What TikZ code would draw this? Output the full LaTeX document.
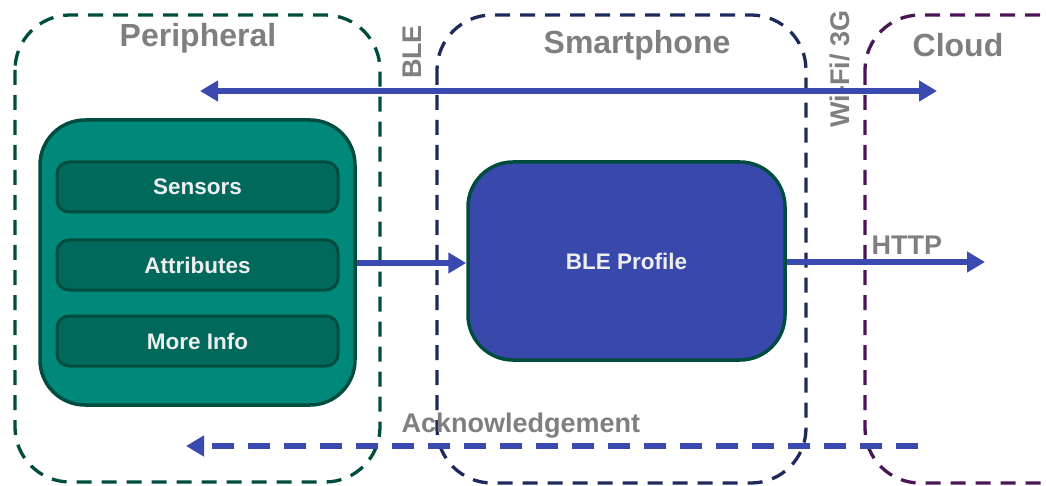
\documentclass[tikz,border=0pt]{standalone}
\usepackage{fontspec}
\setmainfont{Liberation Sans}
\usetikzlibrary{arrows.meta}
\definecolor{pgreen}{HTML}{004D40}
\definecolor{pnavy}{HTML}{1F2A5C}
\definecolor{ppurple}{HTML}{4A1656}
\definecolor{teal1}{HTML}{00897B}
\definecolor{teal2}{HTML}{00695C}
\definecolor{arrowblue}{HTML}{3A4AB0}
\definecolor{profblue}{HTML}{3949AB}
\definecolor{greytxt}{HTML}{7F7F7F}
\definecolor{subtxt}{HTML}{EEEEEE}
\tikzset{
  zone/.style={line width=3.3pt, dash pattern=on 15pt off 10pt, rounded corners=55pt},
  zonelabel/.style={text=greytxt, font=\bfseries\fontsize{32}{36}\selectfont},
  linklabel/.style={text=greytxt, font=\bfseries\fontsize{27}{30}\selectfont},
  subbox/.style={draw=pgreen, line width=3pt, fill=teal2, rounded corners=12pt, minimum width=281pt, minimum height=50pt, text=subtxt, font=\bfseries\fontsize{22.5}{26}\selectfont},
  flow/.style={draw=arrowblue, line width=5.5pt, -{Triangle[length=18pt,width=20pt]}},
}
\begin{document}
\begin{tikzpicture}[x=1pt,y=-1pt]
\useasboundingbox (0,0) rectangle (1046,486);
% zones
\draw[zone, draw=pgreen] (15,15) rectangle (380,482);
\draw[zone, draw=pnavy] (437,15) rectangle (806,483);
\draw[zone, draw=ppurple] (865,15) rectangle (1110,483);
\node[zonelabel] (lperi) at (198,38) {Peripheral};
\node[zonelabel] (lsmart) at (637,45) {Smartphone};
\node[zonelabel] (lcloud) at (958,45) {Cloud};
\node[linklabel, rotate=90] (lble) at (412,52) {BLE};
\node[linklabel, rotate=90] (lwifi) at (840,69) {Wi-Fi/ 3G};
% top arrow
\coordinate (tl) at (200,91);
\coordinate (tr) at (937,91);
\draw[draw=arrowblue, line width=5.5pt, {Triangle[length=18pt,width=20pt]}-{Triangle[length=18pt,width=20pt]}] (tl) -- (tr);
% peripheral block
\node[draw=pgreen, line width=3.5pt, fill=teal1, rounded corners=45pt, minimum width=315pt, minimum height=285pt] (peri) at (197.5,262.5) {};
\node[subbox] (sens) at (197.5,187) {Sensors};
\node[subbox] (attr) at (197.5,265) {Attributes};
\node[subbox] (more) at (197.5,341) {More Info};
% BLE profile
\node[draw=pgreen, line width=3.5pt, fill=profblue, rounded corners=45pt, minimum width=317pt, minimum height=198pt, text=subtxt, font=\bfseries\fontsize{22.5}{26}\selectfont] (prof) at (626.5,261) {BLE Profile};
% flows
\draw[flow] (peri.east |- 0,263) -- (prof.west |- 0,263);
\coordinate (httpend) at (985,262);
\draw[flow] (prof.east |- 0,262) -- (httpend);
\node[linklabel, anchor=west] (lhttp) at (868,245) {HTTP};
% acknowledgement
\coordinate (ackstart) at (918,446);
\coordinate (ackend) at (186,446);
\draw[draw=arrowblue, line width=6pt, dash pattern=on 22pt off 14pt, -{Triangle[length=18pt,width=20pt]}] (ackstart) -- (ackend);
\node[text=greytxt, font=\bfseries\fontsize{27}{30}\selectfont, anchor=west] (lack) at (398,426) {Acknowledgement};
\end{tikzpicture}
\end{document}
